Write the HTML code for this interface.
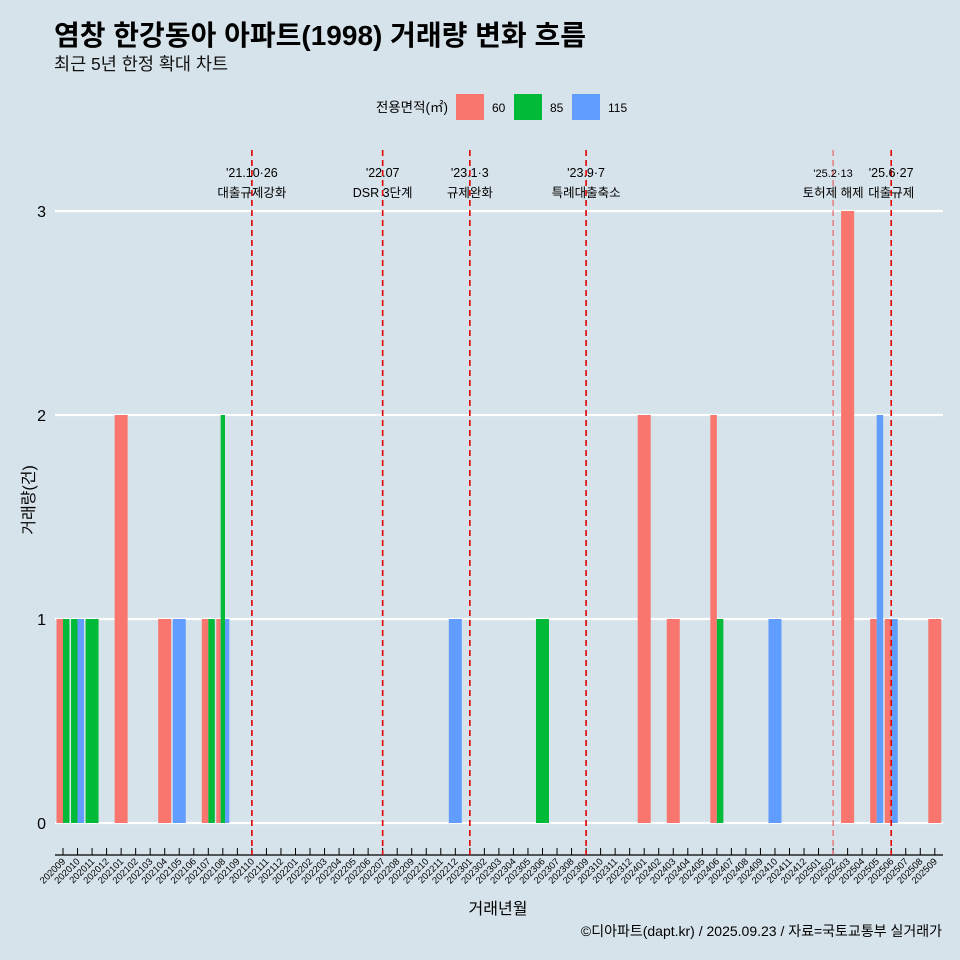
<!DOCTYPE html>
<html><head><meta charset="utf-8">
<style>
body{margin:0;background:#d6e3ea;}
svg{display:block;font-family:"Liberation Sans","Noto Sans CJK KR",sans-serif;}
</style></head>
<body>
<svg id="chart" width="960" height="960" viewBox="0 0 960 960">
<rect x="0" y="0" width="960" height="960" fill="#d6e3ea"/>
<text x="54" y="45" font-size="28" font-weight="bold" fill="#000">염창 한강동아 아파트(1998) 거래량 변화 흐름</text>
<text x="54" y="70" font-size="17.5" fill="#111">최근 5년 한정 확대 차트</text>
<g>
<text x="448" y="112" font-size="13.5" text-anchor="end">전용면적(㎡)</text>
<rect x="456" y="94" width="28" height="26" fill="#f8766d"/>
<text x="492" y="112" font-size="12">60</text>
<rect x="514" y="94" width="28" height="26" fill="#00ba38"/>
<text x="550" y="112" font-size="12">85</text>
<rect x="572" y="94" width="28" height="26" fill="#619cff"/>
<text x="608" y="112" font-size="12">115</text>
</g>
<g id="plot"></g>
<text x="498" y="914" font-size="16" text-anchor="middle">거래년월</text>
<text transform="translate(34,500) rotate(-90)" font-size="16" text-anchor="middle">거래량(건)</text>
<text x="942" y="936" font-size="14" text-anchor="end">©디아파트(dapt.kr) / 2025.09.23 / 자료=국토교통부 실거래가</text>
</svg>
<script>
const months = [];
for (let y = 2020, m = 9; y * 100 + m <= 202509; ) { months.push(String(y * 100 + m)); m++; if (m > 12) { m = 1; y++; } }
const dealMonths = ["202009","202010","202011","202101","202104","202105","202107","202108","202212","202306","202401","202403","202406","202410","202503","202505","202506","202509"];
const area60  = [1,0,0,2,1,0,1,1,0,0,2,1,2,0,3,1,1,1];
const area85  = [1,1,1,0,0,0,1,2,0,1,0,0,1,0,0,0,0,0];
const area115 = [0,1,0,0,0,1,0,1,1,0,0,0,0,1,0,2,1,0];
const yTicks = [0,1,2,3];
const eventMonths = ["202110","202207","202301","202309","202502","202506"];
const eventDates = ["'21.10·26","'22.07","'23.1·3","'23.9·7","'25.2·13","'25.6·27"];
const eventLabels = ["대출규제강화","DSR 3단계","규제완화","특례대출축소","토허제 해제","대출규제"];

const NS = "http://www.w3.org/2000/svg";
const g = document.getElementById('plot');
const x0 = 63, step = 14.53, yBase = 823, unit = 204, left = 55, right = 943;
const xs = i => x0 + i * step;
const ys = v => yBase - v * unit;
function mk(tag, attrs){ const e = document.createElementNS(NS, tag); for (const k in attrs) e.setAttribute(k, attrs[k]); g.appendChild(e); return e; }

yTicks.forEach(t => {
  const l = mk('line', {x1:left, x2:right, y1:ys(t), y2:ys(t), stroke:'#fff', 'stroke-width':2.2});
  
  
  const tx = mk('text', {x:46, y:ys(t)+6, 'font-size':16, 'text-anchor':'end'});
  tx.textContent = t;
  
  
});

const colors = ['#f8766d','#00ba38','#619cff'];
const series = [area60, area85, area115];
const sizeNames = ['60','85','115'];
dealMonths.forEach((mo, j) => {
  const idx = months.indexOf(mo);
  const present = [0,1,2].filter(s => series[s][j] > 0);
  const w = 13 / present.length;
  present.forEach((s, k) => {
    const v = series[s][j];
    const r = mk('rect', {x: xs(idx) - 6.5 + k * w, y: ys(v), width: w, height: v * unit, fill: colors[s]});
    
    
  });
});

const axis = mk('line', {x1:left, x2:right, y1:855, y2:855, stroke:'#000', 'stroke-width':1.2});


months.forEach((mo, i) => {
  const tk = mk('line', {x1:xs(i), x2:xs(i), y1:848, y2:855, stroke:'#000', 'stroke-width':1});
  
  
  const tx = mk('text', {x:0, y:0, 'font-size':9.5, 'text-anchor':'end', transform:`translate(${xs(i)+3},${862}) rotate(-45)`});
  tx.textContent = mo;
  
  
});

eventMonths.forEach((mo, i) => {
  const x = xs(months.indexOf(mo));
  const thin = mo === '202502';
  const l = mk('line', {x1:x, x2:x, y1:150, y2:855, stroke: thin ? '#e8484a' : '#e00000', 'stroke-width': thin ? 1 : 1.6, 'stroke-dasharray':'6,4'});
  
  
  const t1 = mk('text', {x: x, y: 177, 'font-size': thin ? 11 : 12.5, 'text-anchor':'middle'});
  t1.textContent = eventDates[i];
  
  
  const t2 = mk('text', {x: x, y: 197, 'font-size': 12.5, 'text-anchor':'middle'});
  t2.textContent = eventLabels[i];
  
  
});
</script>
</body></html>
